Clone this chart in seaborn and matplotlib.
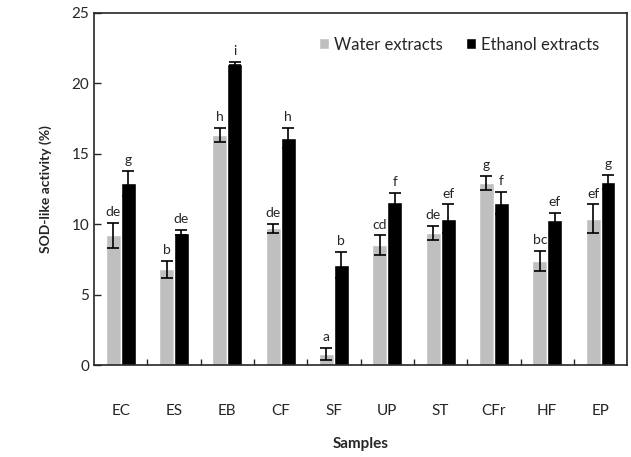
import matplotlib
matplotlib.use("Agg")
import matplotlib.pyplot as plt
import numpy as np
import pandas as pd
import seaborn as sns

samples = ["EC", "ES", "EB", "CF", "SF", "UP", "ST", "CFr", "HF", "EP"]
water_mean = [9.2, 6.8, 16.3, 9.7, 0.8, 8.5, 9.4, 12.9, 7.4, 10.4]
water_err = [0.9, 0.6, 0.5, 0.3, 0.4, 0.7, 0.5, 0.5, 0.7, 1.0]
water_letters = ["de", "b", "h", "de", "a", "cd", "de", "g", "bc", "ef"]
ethanol_mean = [12.9, 9.4, 21.4, 16.1, 7.1, 11.6, 10.4, 11.5, 10.3, 13.0]
ethanol_err = [0.9, 0.2, 0.1, 0.7, 0.9, 0.6, 1.0, 0.8, 0.5, 0.5]
ethanol_letters = ["g", "de", "i", "h", "b", "f", "ef", "f", "ef", "g"]
series = ["Water extracts", "Ethanol extracts"]

sns.set_style("ticks")
plt.rcParams["font.family"] = ["Lato", "DejaVu Sans"]

df = pd.DataFrame({
    "Samples": samples * 2,
    "value": water_mean + ethanol_mean,
    "Extract": [series[0]] * len(samples) + [series[1]] * len(samples),
})

fig = plt.figure(figsize=(6.31, 4.57), dpi=100)
ax = fig.add_axes([0.149, 0.201, 0.845, 0.771])

sns.barplot(data=df, x="Samples", y="value", hue="Extract", hue_order=series,
            palette=["#bfbfbf", "#000000"], width=0.56, errorbar=None,
            saturation=1, ax=ax)

n = len(samples)
bars = [p for p in ax.patches if p.get_height() > 0][: 2 * n]
groups = [(water_mean, water_err, water_letters), (ethanol_mean, ethanol_err, ethanol_letters)]
for k, (means, errs, letters) in enumerate(groups):
    for i in range(n):
        p = bars[k * n + i]
        cx = p.get_x() + p.get_width() / 2
        ax.errorbar(cx, means[i], yerr=errs[i], fmt="none", ecolor="black",
                    elinewidth=1.2, capsize=4, capthick=1.2)
        ax.text(cx, means[i] + errs[i] + 0.35, letters[i], ha="center", va="bottom",
                fontsize=10)

ax.set_ylim(0, 25)
ax.set_xlim(-0.5, n - 0.5)
ax.set_yticks([0, 5, 10, 15, 20, 25])
ax.set_xticks(range(n))
ax.set_xticks(np.arange(0.5, n - 1, 1), minor=True)
ax.tick_params(axis="x", which="major", length=0, pad=28, labelsize=11)
ax.tick_params(axis="x", which="minor", direction="in", length=4, width=1)
ax.tick_params(axis="y", direction="in", length=5, width=1, labelsize=11)
for s in ax.spines.values():
    s.set_linewidth(1.2)
    s.set_visible(True)

ax.set_xlabel("Samples", fontsize=11, fontweight="bold", labelpad=14)
ax.set_ylabel("SOD-like activity (%)", fontsize=10, fontweight="bold", labelpad=14)

ax.legend(loc="upper right", frameon=False, fontsize=12, handlelength=0.6,
          handleheight=0.6, handletextpad=0.3, columnspacing=1.4, ncol=2,
          bbox_to_anchor=(0.975, 0.975))

fig.savefig("out.png", dpi=100)
